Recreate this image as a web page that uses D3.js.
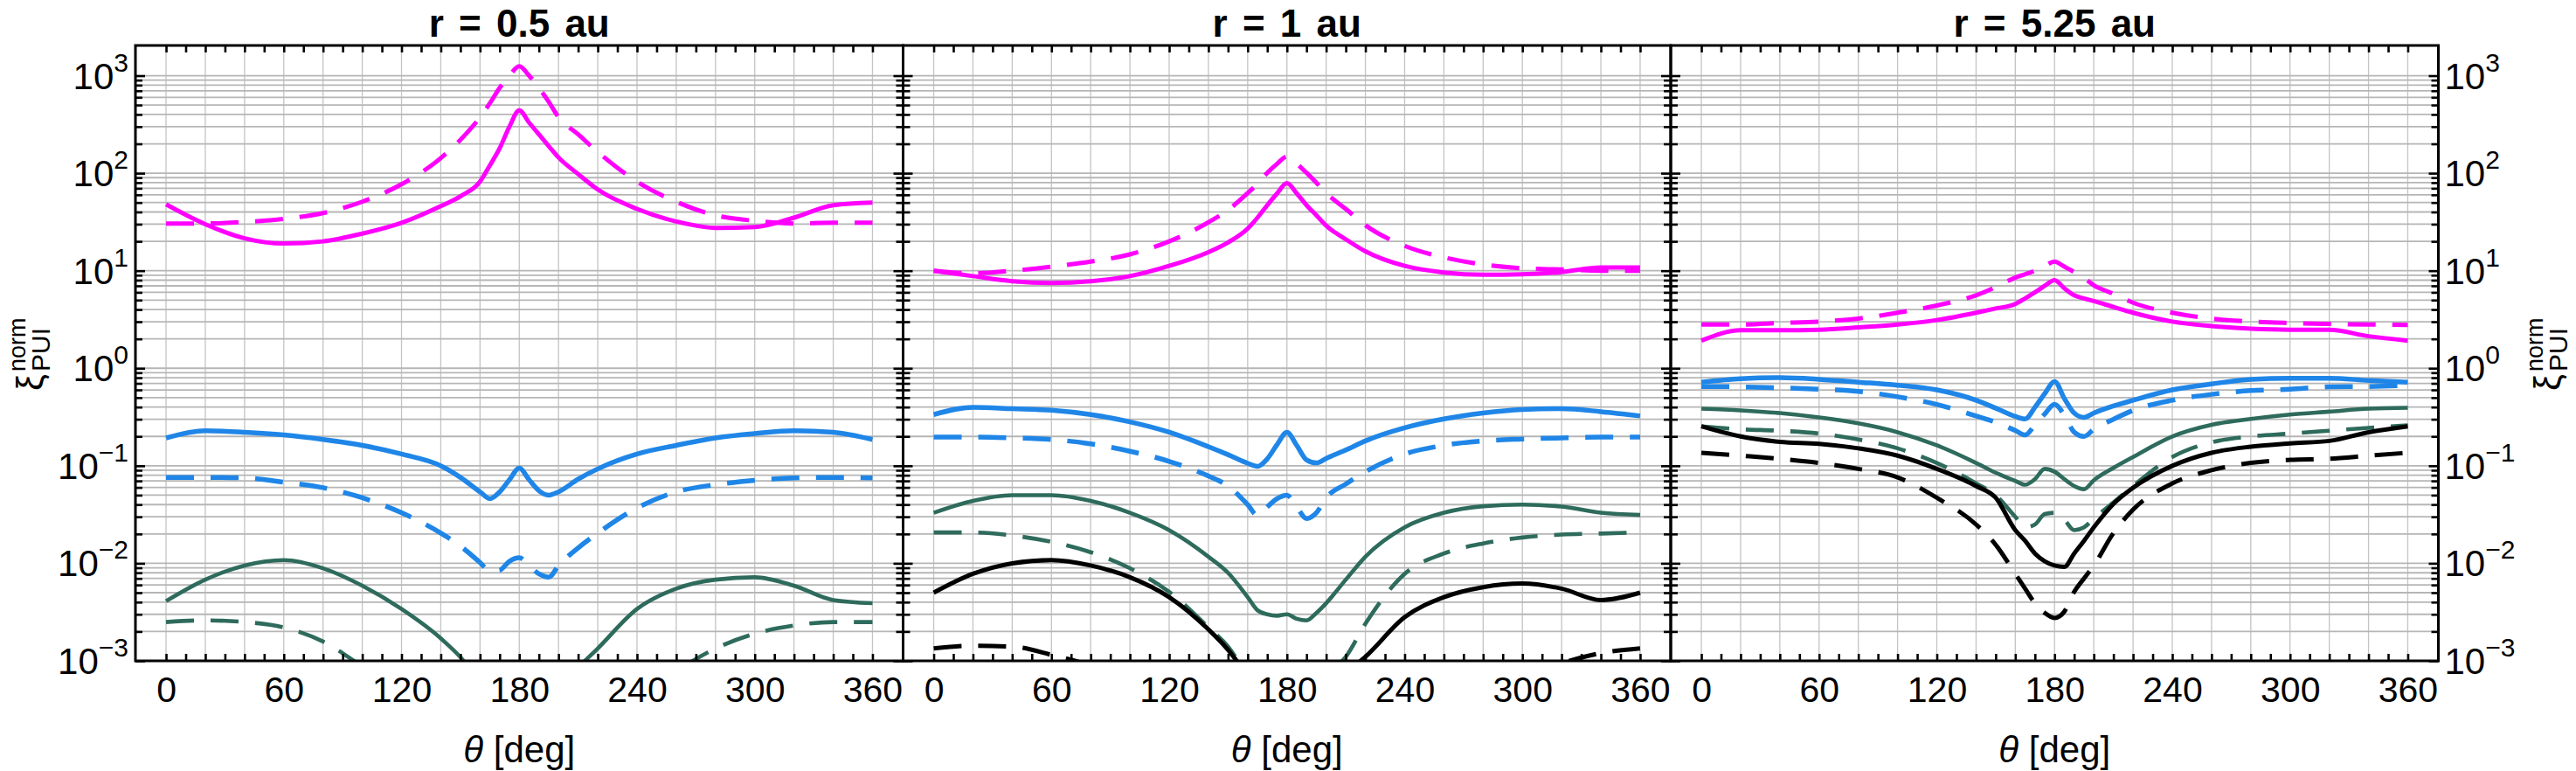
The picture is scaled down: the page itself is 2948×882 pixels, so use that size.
<!DOCTYPE html>
<html>
<head>
<meta charset="utf-8">
<script src="https://cdn.jsdelivr.net/npm/d3@7"></script>
<style>
  html, body { margin: 0; padding: 0; background: #fff; }
  svg { display: block; font-family: "Liberation Sans", Arial, Helvetica, sans-serif; }
</style>
</head>
<body>
<svg id="chart" width="2948" height="882"></svg>
<script>
// angle grid shared by all curves [deg]
var theta = [0, 20, 40, 60, 80, 100, 120, 140, 150, 160, 165, 170, 175, 180, 185, 190, 195, 200, 210, 220, 240, 260, 280, 300, 320, 340, 360];

var panelTitles = ["r = 0.5 au", "r = 1 au", "r = 5.25 au"];
var xTickLabels = [0, 60, 120, 180, 240, 300, 360];

// r = 0.5 au
var magSolid05 = [48, 30, 21.5, 19, 20, 24, 31, 46, 58, 82, 120, 180, 300, 440, 330, 250, 190, 145, 98, 68, 43, 32, 27.5, 28, 35, 47, 50];
var magDash05 = [30.5, 30.5, 31.6, 34, 39, 51, 77, 143, 220, 375, 520, 750, 1000, 1250, 1000, 750, 540, 375, 250, 165, 82, 51, 37, 32.5, 30.5, 31, 31];
var blueSolid05 = [0.193, 0.229, 0.221, 0.207, 0.186, 0.162, 0.132, 0.1, 0.076, 0.054, 0.046, 0.054, 0.072, 0.0946, 0.072, 0.0556, 0.05, 0.054, 0.073, 0.093, 0.132, 0.162, 0.193, 0.214, 0.229, 0.221, 0.186];
var blueDash05 = [0.076, 0.076, 0.075, 0.068, 0.0596, 0.047, 0.033, 0.0204, 0.015, 0.0102, 0.0083, 0.0085, 0.0105, 0.0114, 0.0095, 0.0078, 0.0072, 0.0095, 0.0144, 0.0204, 0.037, 0.054, 0.064, 0.071, 0.075, 0.076, 0.075];
var greenSolid05 = [0.0041, 0.0068, 0.0095, 0.0108, 0.0089, 0.0059, 0.0034, 0.0017, 0.00109, 0.0006, 0.00045, 0.00035, 0.0003, 0.00028, 0.0003, 0.00035, 0.00042, 0.0005, 0.00085, 0.00134, 0.0034, 0.0055, 0.0068, 0.0072, 0.0059, 0.0042, 0.0039];
var greenDash05 = [0.0025, 0.0026, 0.0025, 0.0022, 0.00158, 0.00088, 0.0005, 0.00025, 0.0002, 0.00015, 0.00013, 0.00012, 0.00011, 0.0001, 0.00011, 0.00012, 0.00013, 0.00015, 0.0002, 0.0003, 0.0005, 0.0008, 0.00134, 0.0019, 0.0023, 0.0025, 0.0025];

// r = 1 au
var magSolid1 = [10, 8.8, 7.8, 7.5, 7.8, 8.8, 11.2, 15.5, 19.5, 27, 35, 47, 62, 79, 62, 47, 37, 29, 21, 15.8, 11.2, 9.6, 9.1, 9.2, 9.7, 10.8, 10.8];
var magDash1 = [10, 9.4, 10, 11, 12.4, 14.7, 20, 31.4, 42, 62.5, 78, 101, 125, 148, 125, 101, 80, 62.5, 43, 29.3, 18, 13.7, 11.6, 10.6, 10.3, 10, 10];
var blueSolid1 = [0.335, 0.398, 0.385, 0.371, 0.335, 0.282, 0.221, 0.157, 0.13, 0.106, 0.0986, 0.118, 0.165, 0.221, 0.162, 0.115, 0.107, 0.119, 0.145, 0.18, 0.245, 0.302, 0.347, 0.377, 0.385, 0.359, 0.324];
var blueDash1 = [0.197, 0.197, 0.193, 0.186, 0.168, 0.141, 0.111, 0.0785, 0.062, 0.04, 0.031, 0.038, 0.046, 0.05, 0.038, 0.0288, 0.033, 0.047, 0.065, 0.087, 0.132, 0.162, 0.18, 0.188, 0.193, 0.197, 0.197];
var greenSolid1 = [0.033, 0.0437, 0.05, 0.05, 0.0437, 0.033, 0.0219, 0.0117, 0.008, 0.0045, 0.0033, 0.003, 0.0029, 0.003, 0.0027, 0.0026, 0.0031, 0.0039, 0.0068, 0.0117, 0.0234, 0.033, 0.0385, 0.04, 0.0382, 0.033, 0.0313];
var greenDash1 = [0.0207, 0.0207, 0.0193, 0.0166, 0.013, 0.0089, 0.0051, 0.0022, 0.0014, 0.0007, 0.0005, 0.0004, 0.00035, 0.0003, 0.00035, 0.0004, 0.0005, 0.0007, 0.0011, 0.0024, 0.0078, 0.0126, 0.016, 0.0184, 0.0197, 0.0202, 0.0207];
var blackSolid1 = [0.005, 0.0078, 0.01, 0.0108, 0.0095, 0.0072, 0.0045, 0.0021, 0.0013, 0.0007, 0.0005, 0.0004, 0.00032, 0.0003, 0.0003, 0.00032, 0.0004, 0.0005, 0.00075, 0.0011, 0.0028, 0.0045, 0.0057, 0.0062, 0.0055, 0.0042, 0.005];
var blackDash1 = [0.00134, 0.00143, 0.0014, 0.00115, 0.00088, 0.0005, 0.0003, 0.0002, 0.00018, 0.00016, 0.00015, 0.00015, 0.00015, 0.00015, 0.00015, 0.00015, 0.00015, 0.00016, 0.00018, 0.0002, 0.0003, 0.0004, 0.0005, 0.0007, 0.00095, 0.0012, 0.00134];

// r = 5.25 au
var magSolid525 = [1.92, 2.45, 2.45, 2.48, 2.62, 2.81, 3.12, 3.71, 4.1, 4.56, 5.2, 6.0, 7.0, 8.0, 6.6, 5.6, 5.2, 4.89, 4.25, 3.71, 3.01, 2.71, 2.54, 2.48, 2.48, 2.13, 1.92];
var magDash525 = [2.81, 2.81, 2.91, 3.01, 3.23, 3.71, 4.4, 5.6, 6.8, 8.5, 9.2, 10, 11.2, 12.4, 11, 9.7, 8.4, 7.1, 5.8, 4.7, 3.71, 3.23, 3.01, 2.91, 2.85, 2.81, 2.78];
var blueSolid525 = [0.72, 0.78, 0.8, 0.77, 0.72, 0.67, 0.6, 0.47, 0.39, 0.32, 0.302, 0.398, 0.55, 0.73, 0.49, 0.347, 0.313, 0.347, 0.41, 0.47, 0.6, 0.69, 0.77, 0.79, 0.79, 0.75, 0.72];
var blueDash525 = [0.65, 0.645, 0.63, 0.61, 0.58, 0.51, 0.426, 0.324, 0.28, 0.23, 0.207, 0.263, 0.34, 0.426, 0.33, 0.221, 0.2, 0.237, 0.3, 0.37, 0.47, 0.54, 0.59, 0.61, 0.645, 0.65, 0.67];
var greenSolid525 = [0.385, 0.37, 0.347, 0.313, 0.272, 0.221, 0.162, 0.107, 0.085, 0.07, 0.064, 0.073, 0.093, 0.087, 0.073, 0.062, 0.0575, 0.071, 0.095, 0.123, 0.2, 0.263, 0.302, 0.335, 0.359, 0.385, 0.393];
var greenDash525 = [0.254, 0.237, 0.229, 0.214, 0.186, 0.151, 0.107, 0.066, 0.05, 0.03, 0.0234, 0.025, 0.032, 0.033, 0.028, 0.0219, 0.0234, 0.0288, 0.042, 0.062, 0.123, 0.174, 0.2, 0.214, 0.229, 0.245, 0.26];
var blackSolid525 = [0.254, 0.2, 0.176, 0.168, 0.151, 0.127, 0.093, 0.062, 0.047, 0.0219, 0.017, 0.0126, 0.0105, 0.0095, 0.0092, 0.0126, 0.017, 0.0234, 0.0407, 0.0596, 0.1, 0.136, 0.157, 0.17, 0.18, 0.221, 0.254];
var blackDash525 = [0.136, 0.127, 0.118, 0.107, 0.093, 0.076, 0.047, 0.025, 0.0155, 0.0078, 0.0055, 0.0039, 0.0031, 0.00275, 0.0032, 0.0051, 0.007, 0.0095, 0.0204, 0.0355, 0.066, 0.09, 0.107, 0.115, 0.118, 0.127, 0.136];

var panelSeries = [
  [magSolid05, magDash05, blueSolid05, blueDash05, greenSolid05, greenDash05, null, null],
  [magSolid1, magDash1, blueSolid1, blueDash1, greenSolid1, greenDash1, blackSolid1, blackDash1],
  [magSolid525, magDash525, blueSolid525, blueDash525, greenSolid525, greenDash525, blackSolid525, blackDash525]
];

// styling for the 8 curves, same order as above
var lineColors = ["#ff00ff", "#ff00ff", "#1f86e8", "#1f86e8", "#2e6b5c", "#2e6b5c", "#000000", "#000000"];
var lineDashed = [false, true, false, true, false, true, false, true];
var lineWidths = [5, 5, 5.5, 5.5, 4.6, 4.6, 5, 5];

var svg = d3.select("#chart");

var plotTop = 52, plotBottom = 756;
var panelLeft = [155, 1033.5, 1912];
var panelWidth = 878.5;

var y = d3.scaleLog().domain([1e-3, 2040]).range([plotBottom, plotTop]);

var majorY = d3.range(-3, 4).map(function(k) { return Math.pow(10, k); });
var minorY = [];
d3.range(-3, 3).forEach(function(k) {
  for (var m = 2; m <= 9; m++) minorY.push(m * Math.pow(10, k));
});
var gridY = majorY.concat(minorY);

var defs = svg.append("defs");

panelSeries.forEach(function(series, p) {
  var L = panelLeft[p];
  var x = d3.scaleLinear().domain([-15.6, 375.6]).range([L, L + panelWidth]);
  var g = svg.append("g");

  defs.append("clipPath").attr("id", "clip" + p)
    .append("rect")
      .attr("x", L).attr("y", plotTop)
      .attr("width", panelWidth).attr("height", plotBottom - plotTop);

  // grid
  g.append("g").selectAll("line").data(d3.range(0, 361, 20)).enter().append("line")
    .attr("x1", function(d) { return x(d); }).attr("x2", function(d) { return x(d); })
    .attr("y1", plotTop).attr("y2", plotBottom)
    .style("stroke", "#c4c4c4").style("stroke-width", 1.3);
  g.append("g").selectAll("line").data(gridY).enter().append("line")
    .attr("x1", L).attr("x2", L + panelWidth)
    .attr("y1", function(d) { return y(d); }).attr("y2", function(d) { return y(d); })
    .style("stroke", "#b6b6b6").style("stroke-width", 1.8);

  // curves
  var line = d3.line()
    .x(function(d) { return x(d[0]); })
    .y(function(d) { return y(d[1]); })
    .curve(d3.curveMonotoneX);

  var curves = g.append("g").attr("clip-path", "url(#clip" + p + ")");
  series.forEach(function(vals, i) {
    if (!vals) return;
    var pts = theta.map(function(t, j) { return [t, vals[j]]; });
    curves.append("path")
      .attr("d", line(pts))
      .style("fill", "none")
      .style("stroke", lineColors[i])
      .style("stroke-width", lineWidths[i])
      .style("stroke-dasharray", lineDashed[i] ? "32,19" : null)
      .style("stroke-linejoin", "round");
  });

  // ticks (inward on all four sides)
  var xTicks = d3.range(0, 361, 10);
  g.append("g").attr("transform", "translate(0," + plotBottom + ")")
    .call(d3.axisBottom(x).tickValues(xTicks).tickSize(-8).tickFormat(""));
  g.append("g").attr("transform", "translate(0," + plotTop + ")")
    .call(d3.axisTop(x).tickValues(xTicks).tickSize(-8).tickFormat(""));
  g.append("g").attr("transform", "translate(" + L + ",0)")
    .call(d3.axisLeft(y).tickValues(minorY).tickSize(-8).tickFormat(""));
  g.append("g").attr("transform", "translate(" + L + ",0)")
    .call(d3.axisLeft(y).tickValues(majorY).tickSize(-11).tickFormat(""));
  g.append("g").attr("transform", "translate(" + (L + panelWidth) + ",0)")
    .call(d3.axisRight(y).tickValues(minorY).tickSize(-8).tickFormat(""));
  g.append("g").attr("transform", "translate(" + (L + panelWidth) + ",0)")
    .call(d3.axisRight(y).tickValues(majorY).tickSize(-11).tickFormat(""));
  g.selectAll(".domain").remove();
  g.selectAll(".tick line").style("stroke", "#000").style("stroke-width", 2.6);

  // x tick labels
  var xl = g.append("g").attr("transform", "translate(0," + plotBottom + ")")
    .call(d3.axisBottom(x).tickValues(xTickLabels).tickSize(0).tickPadding(18));
  xl.select(".domain").remove();
  xl.selectAll("text").style("font-size", "41px").style("font-family", "'Liberation Sans', Arial, sans-serif").attr("fill", "#000");

  // frame
  g.append("rect")
    .attr("x", L).attr("y", plotTop)
    .attr("width", panelWidth).attr("height", plotBottom - plotTop)
    .style("fill", "none").style("stroke", "#000").style("stroke-width", 3);

  // title
  g.append("text")
    .attr("x", x(180)).attr("y", 42)
    .attr("text-anchor", "middle")
    .style("font-size", "44px").style("font-weight", "bold")
    .style("word-spacing", "5px")
    .text(panelTitles[p]);

  // x axis label
  var xt = g.append("text")
    .attr("x", x(180)).attr("y", 872)
    .attr("text-anchor", "middle")
    .style("font-size", "42px");
  xt.append("tspan").style("font-style", "italic").text("\u03B8");
  xt.append("tspan").text(" [deg]");
});

// y tick labels, left of first panel and right of last panel
function expLabel(sel, k) {
  sel.append("tspan").style("font-size", "42px").text("10");
  sel.append("tspan").attr("dy", -20).style("font-size", "30px")
    .text(k < 0 ? "\u2212" + (-k) : String(k));
}
var rightEdge = panelLeft[2] + panelWidth;
majorY.forEach(function(v) {
  var k = Math.round(Math.log10(v));
  svg.append("text").attr("x", 147).attr("y", y(v) + 15)
    .attr("text-anchor", "end").call(expLabel, k);
  svg.append("text").attr("x", rightEdge + 7).attr("y", y(v) + 15)
    .attr("text-anchor", "start").call(expLabel, k);
});

// y axis titles
function yTitle(cx) {
  var t = svg.append("g").attr("transform", "translate(" + cx + ",402) rotate(-90)");
  t.append("text").attr("x", -45).attr("y", 0).style("font-size", "42px").text("\u03BE");
  t.append("text").attr("x", -23).attr("y", 8).style("font-size", "30px").text("PUI");
  t.append("text").attr("x", -23).attr("y", -20).style("font-size", "27px").text("norm");
}
yTitle(49);
yTitle(2930);
</script>
</body>
</html>
